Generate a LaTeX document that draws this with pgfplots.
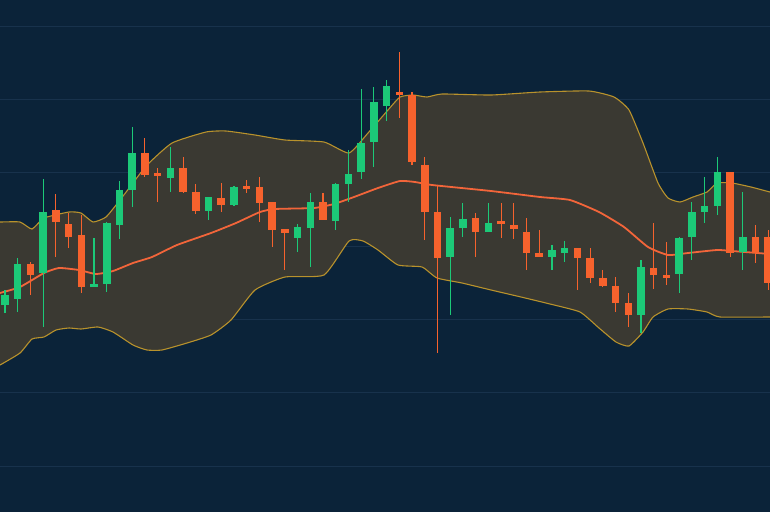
\documentclass[border=0pt]{standalone}
\usepackage{pgfplots}
\usepackage{pgfplotstable}
\pgfplotsset{compat=1.18}
\definecolor{bg}{HTML}{0B2339}
\definecolor{gridc}{HTML}{18324C}
\definecolor{bandfill}{HTML}{3A3932}
\definecolor{bandline}{HTML}{B8922C}
\definecolor{sma}{HTML}{F2653A}
\definecolor{up}{HTML}{1CC978}
\definecolor{down}{HTML}{F6622D}

% candles: i, wick top, body top, body bottom, wick bottom (pixel rows, top = 0)
\pgfplotstableread{
i wt bt bb wb
0 290 295 305 313
1 258 264 299 312
3 179 212 273 327
7 238 284 287 287
8 222 223 284 292
9 181 190 225 239
10 127 153 190 207
13 147 168 178 192
16 197 197 211 220
18 186 187 205 206
23 224 227 238 252
24 193 202 228 267
26 183 184 221 230
27 150 174 184 202
28 89 143 172 179
29 87 102 142 167
30 80 86 106 121
35 217 228 257 315
36 203 219 228 237
38 203 223 232 232
43 245 250 257 270
44 241 248 253 262
50 260 267 315 333
53 237 238 274 293
54 202 212 237 260
55 177 206 212 223
56 157 172 206 215
58 192 237 252 270
}\greentab

\pgfplotstableread{
i wt bt bb wb
2 262 264 275 295
4 194 210 222 257
5 213 224 237 248
6 215 235 287 293
11 138 153 175 177
12 168 173 176 202
14 157 168 192 193
15 184 192 211 214
17 183 198 205 212
19 180 186 189 193
20 177 187 203 222
21 202 202 230 247
22 229 229 233 270
25 193 202 220 220
31 52 92 95 118
32 92 95 162 165
33 157 165 212 240
34 185 212 258 353
37 213 218 232 257
39 203 221 224 238
40 203 225 229 239
41 218 232 253 270
42 230 253 257 257
45 248 248 258 290
46 248 258 278 283
47 270 278 286 287
48 277 286 303 312
49 293 303 315 327
51 223 268 275 289
52 242 275 278 285
57 172 172 253 257
59 225 237 253 263
60 230 237 283 290
}\redtab

\pgfplotstableread{
x y
-10 222
0 222
20 222
32 229
44 218
69 212
81 213
93 222
106 217
120 200
133 183
147 165
172 143
206 132
226 131
255 135
285 140
324 142
349 153
368 133
388 110
400 97
413 95
427 97
442 94
491 95
540 92
589 91
614 97
629 110
643 143
658 183
668 198
680 202
693 197
707 192
717 183
732 183
751 187
770 192
780 194
}\uppertab

\pgfplotstableread{
x y
-10 370
0 365
20 353
32 339
44 337
56 330
69 328
81 329
98 327
113 332
133 345
147 350
162 350
187 343
211 335
231 320
255 290
285 277
324 275
349 241
363 241
378 250
398 265
422 267
437 278
462 283
491 290
521 297
550 304
580 312
599 328
616 342
629 346
643 332
653 317
668 309
688 309
707 312
720 317
770 317
780 317
}\lowertab

% band outline: upper edge left to right, then lower edge right to left
\pgfplotstableread{
x y
-10 222
0 222
20 222
32 229
44 218
69 212
81 213
93 222
106 217
120 200
133 183
147 165
172 143
206 132
226 131
255 135
285 140
324 142
349 153
368 133
388 110
400 97
413 95
427 97
442 94
491 95
540 92
589 91
614 97
629 110
643 143
658 183
668 198
680 202
693 197
707 192
717 183
732 183
751 187
770 192
780 194
780 317
770 317
720 317
707 312
688 309
668 309
653 317
643 332
629 346
616 342
599 328
580 312
550 304
521 297
491 290
462 283
437 278
422 267
398 265
378 250
363 241
349 241
324 275
285 277
255 290
231 320
211 335
187 343
162 350
147 350
133 345
113 332
98 327
81 329
69 328
56 330
44 337
32 339
20 353
0 365
-10 370
}\bandtab

\pgfplotstableread{
x y
-10 296
0 293
20 287
44 273
59 268
79 270
96 274
113 271
133 263
152 257
177 245
211 233
236 223
260 212
275 209
314 208
334 204
354 197
378 188
400 181
415 182
432 185
491 191
540 197
570 200
599 212
624 227
648 247
668 255
688 253
717 250
732 251
770 254
780 255
}\smatab

\begin{document}
\begin{tikzpicture}
\fill[bg] (0,0) rectangle (770pt,512pt);
\begin{axis}[
  at={(0,0)}, anchor=south west,
  width=770pt, height=512pt, scale only axis,
  xmin=0, xmax=770, ymin=0, ymax=512, y dir=reverse,
  hide axis, clip=true,
]
\pgfplotsinvokeforeach{26.7,99.3,172.7,246,319.3,392.7,466}{
  \draw[gridc, line width=0.8pt] (axis cs:0,#1) -- (axis cs:770,#1);
}
\addplot[fill=bandfill, draw=none, smooth, tension=0.3] table[x=x,y=y] {\bandtab};
\addplot[bandline, line width=1.1pt, smooth, tension=0.3] table[x=x,y=y] {\uppertab};
\addplot[bandline, line width=1.1pt, smooth, tension=0.3] table[x=x,y=y] {\lowertab};
\addplot[sma, line width=1.8pt, smooth, tension=0.3] table[x=x,y=y] {\smatab};

% wicks
\addplot[draw=none, mark=none, error bars/.cd, y dir=both, y explicit,
  error mark=none, error bar style={up, line width=1.1pt}]
  table[x expr=5+12.72*\thisrow{i}, y expr=(\thisrow{wt}+\thisrow{wb})/2,
        y error expr=(\thisrow{wb}-\thisrow{wt})/2] {\greentab};
\addplot[draw=none, mark=none, error bars/.cd, y dir=both, y explicit,
  error mark=none, error bar style={down, line width=1.1pt}]
  table[x expr=5+12.72*\thisrow{i}, y expr=(\thisrow{wt}+\thisrow{wb})/2,
        y error expr=(\thisrow{wb}-\thisrow{wt})/2] {\redtab};
% bodies
\addplot[draw=none, mark=none, error bars/.cd, y dir=both, y explicit,
  error mark=none, error bar style={up, line width=7.5pt, line cap=butt}]
  table[x expr=5+12.72*\thisrow{i}, y expr=(\thisrow{bt}+\thisrow{bb})/2,
        y error expr={max((\thisrow{bb}-\thisrow{bt})/2,1.5)}] {\greentab};
\addplot[draw=none, mark=none, error bars/.cd, y dir=both, y explicit,
  error mark=none, error bar style={down, line width=7.5pt, line cap=butt}]
  table[x expr=5+12.72*\thisrow{i}, y expr=(\thisrow{bt}+\thisrow{bb})/2,
        y error expr={max((\thisrow{bb}-\thisrow{bt})/2,1.5)}] {\redtab};
\end{axis}
\end{tikzpicture}
\end{document}
